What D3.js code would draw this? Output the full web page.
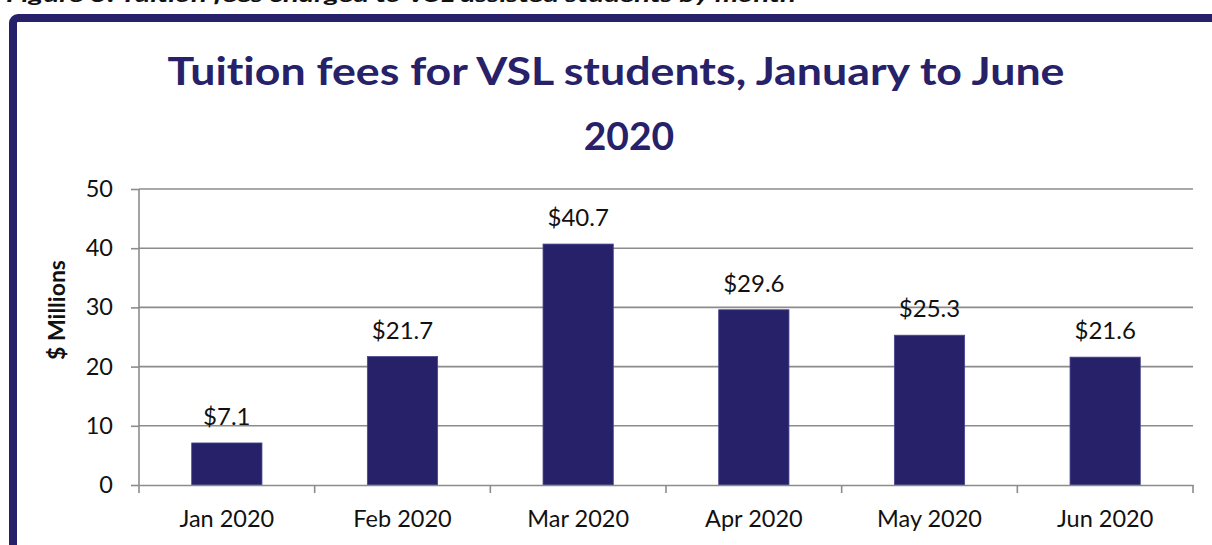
<!DOCTYPE html>
<html>
<head>
<meta charset="utf-8">
<script src="https://cdn.jsdelivr.net/npm/d3@7"></script>
<style>
  body { margin: 0; background: #fff; }
  svg { display: block; font-family: Lato, "Open Sans", sans-serif; font-variant-ligatures: none; }
</style>
</head>
<body>
<svg id="chart" width="1212" height="545"></svg>
<script>
// data
let months = ["Jan 2020", "Feb 2020", "Mar 2020", "Apr 2020", "May 2020", "Jun 2020"];
let fees = [7.1, 21.7, 40.7, 29.6, 25.3, 21.6];
let yTicks = [0, 10, 20, 30, 40, 50];

let navy = "#262169";
let grey = "#8c8c8c";

let svg = d3.select("#chart");

// caption of the figure, mostly cut off at the top of the page
svg.append("text")
  .attr("x", 6).attr("y", 2)
  .attr("textLength", 790).attr("lengthAdjust", "spacingAndGlyphs")
  .style("font-size", "18px").style("font-weight", "bold").style("font-style", "italic")
  .attr("fill", "#111")
  .text("Figure 3: Tuition fees charged to VSL assisted students by month");

// frame round the chart
svg.append("rect")
  .attr("x", 13).attr("y", 18)
  .attr("width", 1400).attr("height", 800)
  .attr("rx", 5)
  .attr("fill", "none")
  .attr("stroke", navy)
  .attr("stroke-width", 8);

// title
svg.append("text")
  .attr("x", 616).attr("y", 85)
  .attr("text-anchor", "middle")
  .attr("textLength", 897).attr("lengthAdjust", "spacingAndGlyphs")
  .style("font-size", "39px").style("font-weight", "bold")
  .attr("fill", navy)
  .text("Tuition fees for VSL students, January to June");
svg.append("text")
  .attr("x", 629).attr("y", 150)
  .attr("text-anchor", "middle")
  .style("font-size", "39px").style("font-weight", "bold")
  .attr("fill", navy)
  .text("2020");

let pLeft = 139, pRight = 1193, pTop = 189, pBottom = 485;

let x = d3.scaleBand()
  .domain(months)
  .range([pLeft, pRight])
  .paddingInner(0.6)
  .paddingOuter(0.3);

let y = d3.scaleLinear()
  .domain([0, 50])
  .range([pBottom, pTop]);

let plot = svg.append("g");

// gridlines
plot.selectAll(".grid")
  .data(yTicks.filter(d => d > 0))
  .enter().append("line")
  .attr("class", "grid")
  .attr("x1", pLeft).attr("x2", pRight)
  .attr("y1", d => y(d)).attr("y2", d => y(d))
  .attr("stroke", grey).attr("stroke-width", 1.6);

// bars
plot.selectAll(".bar")
  .data(fees)
  .enter().append("rect")
  .attr("class", "bar")
  .attr("x", (d, i) => x(months[i]))
  .attr("width", x.bandwidth())
  .attr("y", d => y(d))
  .attr("height", d => y(0) - y(d))
  .attr("fill", navy)
  .attr("stroke", "#4a4690").attr("stroke-width", 0.8);

// value labels
plot.selectAll(".val")
  .data(fees)
  .enter().append("text")
  .attr("class", "val")
  .attr("x", (d, i) => x(months[i]) + x.bandwidth() / 2)
  .attr("y", d => y(d) - 18)
  .attr("text-anchor", "middle")
  .style("font-size", "24px")
  .attr("fill", "#111")
  .text(d => "$" + d.toFixed(1));

// y axis
let yAxis = plot.append("g")
  .attr("transform", "translate(" + pLeft + ",0)")
  .call(d3.axisLeft(y).tickValues(yTicks).tickSize(8).tickSizeOuter(0).tickPadding(18));
yAxis.select(".domain").attr("stroke", grey).attr("stroke-width", 1.6)
  .attr("d", "M0," + pTop + "V" + (pBottom + 8));
yAxis.selectAll(".tick line").attr("stroke", grey).attr("stroke-width", 1.6);
yAxis.selectAll(".tick text")
  .style("font-size", "23.5px").style("font-family", "Lato, sans-serif")
  .attr("fill", "#111");

// x axis: labels under bars, ticks on the category boundaries
let xAxis = plot.append("g")
  .attr("transform", "translate(0," + pBottom + ")")
  .call(d3.axisBottom(x).tickSize(0).tickSizeOuter(0).tickPadding(25));
xAxis.select(".domain").attr("stroke", grey).attr("stroke-width", 1.6);
xAxis.selectAll(".tick text")
  .style("font-size", "23.5px").style("font-family", "Lato, sans-serif")
  .attr("fill", "#111");

let bounds = d3.range(1, months.length + 1).map(i => pLeft + i * x.step());
xAxis.selectAll(".bound")
  .data(bounds)
  .enter().append("line")
  .attr("class", "bound")
  .attr("x1", d => d).attr("x2", d => d)
  .attr("y1", 0).attr("y2", 8)
  .attr("stroke", grey).attr("stroke-width", 1.6);

// axis title
svg.append("text")
  .attr("transform", "translate(65,310) rotate(-90)")
  .attr("text-anchor", "middle")
  .style("font-size", "23px").style("font-weight", "bold")
  .attr("fill", "#111")
  .text("$ Millions");
</script>
</body>
</html>
